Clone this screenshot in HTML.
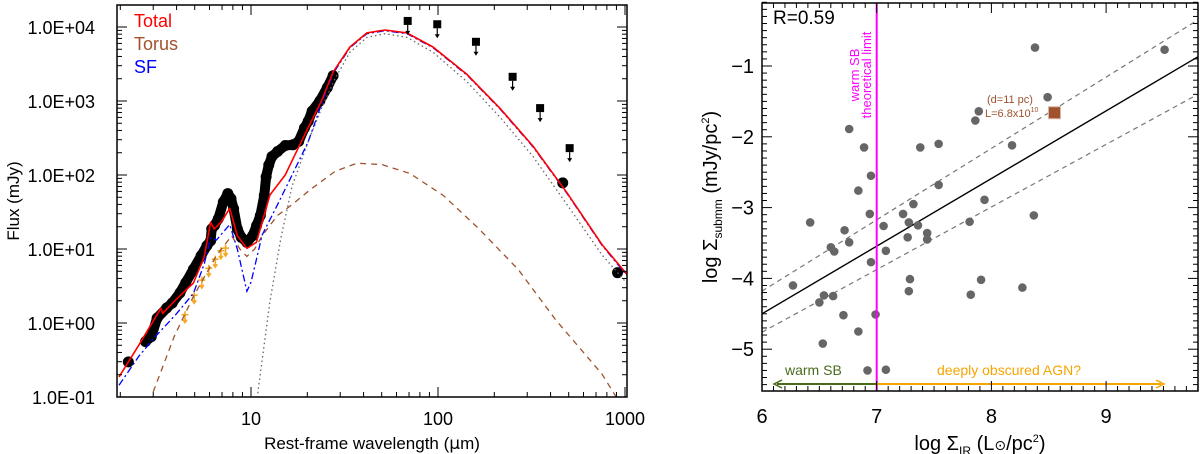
<!DOCTYPE html>
<html><head><meta charset="utf-8"><style>
body{margin:0;background:#fff;}
svg{display:block;font-family:"Liberation Sans",sans-serif;}
</style></head><body>
<svg id="chart" width="1200" height="454" viewBox="0 0 1200 454"></svg>
<script>
// ---- Left panel data (log10 wavelength [um], log10 flux [mJy]) ----
const totalLogL = [0.294,0.40,0.518,0.528,0.60,0.692,0.75,0.784,0.804,0.845,0.886,0.927,0.978,1.029,1.101,1.183,1.244,1.306,1.380,1.439,1.529,1.620,1.717,1.834,1.973,2.155,2.332,2.508,2.690,2.877,3.03];
const totalLogF = [-0.73,-0.30,0.20,0.13,0.32,0.54,0.90,1.36,1.27,1.38,1.55,1.18,1.01,1.09,1.73,2.00,2.32,2.64,3.02,3.39,3.73,3.92,3.96,3.92,3.73,3.36,2.90,2.39,1.76,1.06,0.60];
const sfLogL = [0.294,0.40,0.49,0.60,0.692,0.75,0.784,0.815,0.886,0.927,0.978,1.00,1.06,1.14,1.22,1.306,1.380,1.439,1.529,1.620,1.717,1.834,1.973,2.155,2.332,2.508,2.690,2.877,3.03];
const sfLogF = [-0.84,-0.45,-0.18,0.12,0.40,0.80,1.15,1.12,1.33,1.00,0.43,0.55,1.19,1.59,2.00,2.45,2.98,3.37,3.72,3.91,3.95,3.91,3.72,3.35,2.89,2.38,1.75,1.05,0.58];
const torusLogL = [0.456,0.59,0.692,0.815,0.897,0.94,0.978,1.02,1.06,1.14,1.22,1.316,1.45,1.567,1.70,1.85,2.03,2.22,2.43,2.63,2.877,2.97];
const torusLogF = [-1.07,-0.18,0.36,0.91,1.18,1.00,0.90,1.00,1.18,1.45,1.60,1.80,2.05,2.16,2.14,2.02,1.72,1.27,0.72,0.04,-0.69,-1.07];
const coldLogL = [1.03,1.10,1.16,1.22,1.306,1.380,1.449,1.529,1.62,1.717,1.834,1.973,2.155,2.332,2.508,2.69,2.877,3.03];
const coldLogF = [-1.07,0.27,1.15,1.85,2.45,2.92,3.30,3.66,3.86,3.91,3.86,3.66,3.26,2.78,2.25,1.60,0.92,0.48];
const specLogL = [0.344,0.436,0.467,0.498,0.549,0.579,0.620,0.651,0.692,0.733,0.764,0.784,0.790,0.805,0.825,0.852,0.876,0.893,0.907,0.927,0.948,0.978,1.009,1.030,1.050,1.071,1.081,1.095,1.112,1.142,1.183,1.224,1.255,1.286,1.306,1.327,1.368,1.408,1.439,2.667,2.96];
const specLogF = [-0.525,-0.252,-0.184,0.066,0.203,0.271,0.407,0.544,0.726,0.908,1.044,1.112,1.271,1.317,1.408,1.635,1.749,1.681,1.544,1.271,1.158,1.090,1.180,1.317,1.453,1.726,1.976,2.135,2.249,2.317,2.399,2.408,2.454,2.636,2.727,2.863,3.0,3.181,3.341,1.894,0.68];
const ulLogL = [1.838,1.996,2.203,2.399,2.546,2.704];
const ulLogF = [4.082,4.037,3.800,3.327,2.904,2.363];
const orLogL = [0.647,0.696,0.737,0.774,0.809,0.839,0.864];
const orLogF = [0.112,0.375,0.580,0.739,0.862,0.976,1.012];
const yTickLabels = ["1.0E-01","1.0E+00","1.0E+01","1.0E+02","1.0E+03","1.0E+04"];
const xTickLabels = ["10","100","1000"];
// ---- Right panel data ----
const sirX = [8.38,9.51,8.49,7.89,7.86,6.76,8.18,6.89,7.38,7.54,6.95,7.54,6.84,7.94,7.32,6.94,7.23,8.37,6.42,7.28,7.81,7.06,7.36,6.72,7.44,6.76,7.27,7.44,6.60,6.63,7.08,6.95,7.29,7.91,6.27,7.28,6.54,6.50,6.62,7.82,8.27,6.71,6.99,6.84,6.53,6.92,7.08];
const ssubY = [-0.74,-0.77,-1.44,-1.64,-1.77,-1.89,-2.12,-2.15,-2.15,-2.10,-2.55,-2.68,-2.76,-2.89,-2.95,-3.09,-3.09,-3.11,-3.21,-3.21,-3.20,-3.26,-3.25,-3.32,-3.36,-3.49,-3.42,-3.45,-3.56,-3.62,-3.61,-3.77,-4.01,-4.02,-4.10,-4.18,-4.24,-4.34,-4.25,-4.23,-4.13,-4.52,-4.51,-4.75,-4.92,-5.30,-5.29];
const targetX = [8.55], targetY = [-1.66];
const fitX = [6, 9.8], fitY = [-4.50, -0.87];
const upX = [6, 9.8], upY = [-4.18, -0.35];
const loX = [6, 9.8], loY = [-4.76, -1.40];
const rXTicks = [6,7,8,9];
const rYTicks = [-1,-2,-3,-4,-5];

const NS = "http://www.w3.org/2000/svg";
const svg = document.getElementById('chart');
function mk(tag, attrs, parent){ const e=document.createElementNS(NS,tag); for(const k in attrs) e.setAttribute(k,attrs[k]); (parent||svg).appendChild(e); return e; }
const xL = v => 251 + (v-1)*187;
const yL = v => 27 + (4-v)*74;
const xR = v => 762 + (v-6)*114.7;
const yR = v => 66 + (-1-v)*70.8;
const L = {x0:117,x1:627,y0:5,y1:397};
const R = {x0:762,x1:1198,y0:3,y1:391};

// ===== LEFT PANEL =====
const gL = mk('g',{});


const clipL = mk('clipPath',{id:'cl'}); mk('rect',{x:L.x0,y:L.y0,width:L.x1-L.x0,height:L.y1-L.y0},clipL);
const plotL = mk('g',{'clip-path':'url(#cl)'},gL);
function pts(xs,ys,fx,fy){ return xs.map((v,i)=>fx(v).toFixed(1)+','+fy(ys[i]).toFixed(1)).join(' '); }
const specN = specLogL.length-2;
const specLine = mk('polyline',{points:pts(specLogL.slice(1,specN),specLogF.slice(1,specN),xL,yL),fill:'none',stroke:'#000','stroke-width':10,'stroke-linejoin':'round','stroke-linecap':'round'},plotL);


specLogL.forEach((v,i)=>{
  const c = mk('circle',{cx:xL(v),cy:yL(specLogF[i]),r:5.5,fill:'#000'},plotL);
  
  
});
orLogL.forEach((v,i)=>{
  const x=xL(v), y=yL(orLogF[i]);
  const g=mk('g',{stroke:'#f5a623','stroke-width':1.6,fill:'none'},plotL);
  
  
  mk('line',{x1:x-3.5,y1:y,x2:x+3.5,y2:y},g);
  mk('line',{x1:x,y1:y-3.5,x2:x,y2:y+7},g);
  mk('polyline',{points:`${x-2},${y+5} ${x},${y+8} ${x+2},${y+5}`},g);
});
const torus = mk('polyline',{points:pts(torusLogL,torusLogF,xL,yL),fill:'none',stroke:'#a0522d','stroke-width':1.3,'stroke-dasharray':'6,5'},plotL);


const cold = mk('polyline',{points:pts(coldLogL,coldLogF,xL,yL),fill:'none',stroke:'#666','stroke-width':1.3,'stroke-dasharray':'1.5,3'},plotL);


const sf = mk('polyline',{points:pts(sfLogL,sfLogF,xL,yL),fill:'none',stroke:'#0000ff','stroke-width':1.3,'stroke-dasharray':'7,3,2,3'},plotL);


const tot = mk('polyline',{points:pts(totalLogL,totalLogF,xL,yL),fill:'none',stroke:'#ff0000','stroke-width':1.6,'stroke-linejoin':'round'},plotL);


ulLogL.forEach((v,i)=>{
  const x=xL(v), y=yL(ulLogF[i]);
  const g=mk('g',{},gL);
  
  
  mk('rect',{x:x-4,y:y-4,width:8,height:8,fill:'#000'},g);
  mk('line',{x1:x,y1:y+4,x2:x,y2:y+13,stroke:'#000','stroke-width':1.2},g);
  mk('polygon',{points:`${x-2.5},${y+10} ${x+2.5},${y+10} ${x},${y+14}`,fill:'#000'},g);
});
mk('rect',{x:L.x0,y:L.y0,width:L.x1-L.x0,height:L.y1-L.y0,fill:'none',stroke:'#000','stroke-width':1.5},gL);
for(let d=0; d<=3; d++){ for(let m=1;m<=9;m++){ const lv=d+Math.log10(m); if(lv<0.29||lv>3.01) continue; const x=xL(lv); const len=m===1?10:5;
  mk('line',{x1:x,y1:L.y1,x2:x,y2:L.y1-len,stroke:'#000','stroke-width':1},gL); mk('line',{x1:x,y1:L.y0,x2:x,y2:L.y0+len,stroke:'#000','stroke-width':1},gL);} }
for(let d=-2; d<=4; d++){ for(let m=1;m<=9;m++){ const lv=d+Math.log10(m); if(lv<-1.01||lv>4.29) continue; const y=yL(lv); const len=m===1?10:5;
  mk('line',{x1:L.x0,y1:y,x2:L.x0+len,y2:y,stroke:'#000','stroke-width':1},gL); mk('line',{x1:L.x1,y1:y,x2:L.x1-len,y2:y,stroke:'#000','stroke-width':1},gL);} }
yTickLabels.forEach((t,i)=>{ const e=mk('text',{x:95,y:yL(i-1)+7,'text-anchor':'end','font-size':18},gL); e.textContent=t;
    });
xTickLabels.forEach((t,i)=>{ const e=mk('text',{x:xL(i+1),y:425,'text-anchor':'middle','font-size':18},gL); e.textContent=t;
    });
let t;
t=mk('text',{x:372,y:449,'text-anchor':'middle','font-size':17},gL); t.innerHTML='Rest-frame wavelength (<tspan font-family="DejaVu Sans">μ</tspan>m)';
 
t=mk('text',{x:0,y:0,'text-anchor':'middle','font-size':17,transform:'translate(19,201) rotate(-90)'},gL); t.textContent='Flux (mJy)';
 
[['Total','#ff0000',27],['Torus','#a0522d',50],['SF','#0000ff',73]].forEach(([s,c,y])=>{ const e=mk('text',{x:134,y:y,fill:c,'font-size':18},gL); e.textContent=s;
    });

// ===== RIGHT PANEL =====
const gR = mk('g',{});


const clipR = mk('clipPath',{id:'cr'}); mk('rect',{x:R.x0,y:R.y0,width:R.x1-R.x0,height:R.y1-R.y0},clipR);
const plotR = mk('g',{'clip-path':'url(#cr)'},gR);
const lu=mk('line',{x1:xR(upX[0]),y1:yR(upY[0]),x2:xR(upX[1]),y2:yR(upY[1]),stroke:'#777','stroke-width':1.2,'stroke-dasharray':'5,4'},plotR);
 
const ll=mk('line',{x1:xR(loX[0]),y1:yR(loY[0]),x2:xR(loX[1]),y2:yR(loY[1]),stroke:'#777','stroke-width':1.2,'stroke-dasharray':'5,4'},plotR);
 
const lf=mk('line',{x1:xR(fitX[0]),y1:yR(fitY[0]),x2:xR(fitX[1]),y2:yR(fitY[1]),stroke:'#000','stroke-width':1.4},plotR);
 
sirX.forEach((v,i)=>{ const c=mk('circle',{cx:xR(v),cy:yR(ssubY[i]),r:4.3,fill:'#666'},plotR);
    });
targetX.forEach((v,i)=>{ const r=mk('rect',{x:xR(v)-6,y:yR(targetY[i])-6,width:12,height:12,fill:'#a0522d',stroke:'#d8b8a8','stroke-width':1},plotR);
    });
const mg=mk('line',{x1:xR(7),y1:R.y0,x2:xR(7),y2:R.y1,stroke:'#ff00ff','stroke-width':2},plotR);
 
const ga=mk('line',{x1:xR(7),y1:384,x2:777,y2:384,stroke:'#4a6b1f','stroke-width':2},gR);
 
mk('polyline',{points:'782,380 774,384 782,388',fill:'none',stroke:'#4a6b1f','stroke-width':1.5},gR);
const oa=mk('line',{x1:xR(7),y1:384,x2:1161,y2:384,stroke:'#f5a500','stroke-width':2},gR);
 
mk('polyline',{points:'1156,380 1164,384 1156,388',fill:'none',stroke:'#f5a500','stroke-width':1.5},gR);
mk('rect',{x:R.x0,y:R.y0,width:R.x1-R.x0,height:R.y1-R.y0,fill:'none',stroke:'#000','stroke-width':1.5},gR);
for(let k=60;k<=98;k++){ const v=k/10; const x=xR(v); const len=(k%10===0)?10:5;
  mk('line',{x1:x,y1:R.y1,x2:x,y2:R.y1-len,stroke:'#000'},gR); mk('line',{x1:x,y1:R.y0,x2:x,y2:R.y0+len,stroke:'#000'},gR); }
for(let k=-55;k<=-1;k++){ const v=k/10; const y=yR(v); const len=(k%10===0)?10:5;
  mk('line',{x1:R.x0,y1:y,x2:R.x0+len,y2:y,stroke:'#000'},gR); mk('line',{x1:R.x1,y1:y,x2:R.x1-len,y2:y,stroke:'#000'},gR); }
rXTicks.forEach(v=>{ const e=mk('text',{x:xR(v),y:423,'text-anchor':'middle','font-size':20},gR); e.textContent=v;
    });
rYTicks.forEach(v=>{ const e=mk('text',{x:754,y:yR(v)+7,'text-anchor':'end','font-size':20},gR); e.textContent='\u2212'+Math.abs(v);
    });
t=mk('text',{x:980,y:450,'text-anchor':'middle','font-size':20},gR); t.innerHTML='log  Σ<tspan font-size="12" dy="5">IR</tspan><tspan dy="-5"> (L</tspan><tspan font-family="DejaVu Sans" font-size="14">⊙</tspan>/pc<tspan font-size="11" dy="-8">2</tspan><tspan dy="8">)</tspan>';
 
t=mk('text',{x:0,y:0,'text-anchor':'middle','font-size':20,transform:'translate(717,197) rotate(-90)'},gR); t.innerHTML='log  Σ<tspan font-size="12" dy="5">submm</tspan><tspan dy="-5"> (mJy/pc</tspan><tspan font-size="11" dy="-8">2</tspan><tspan dy="8">)</tspan>';
 
t=mk('text',{x:773,y:24,'font-size':19},gR); t.textContent='R=0.59';
 
t=mk('text',{x:0,y:0,'font-size':13,fill:'#ff00ff','text-anchor':'middle',transform:'translate(859,75) rotate(-90)'},gR); t.textContent='warm SB';
 
t=mk('text',{x:0,y:0,'font-size':13,fill:'#ff00ff','text-anchor':'middle',transform:'translate(871,75) rotate(-90)'},gR); t.textContent='theoretical limit';
 
t=mk('text',{x:987,y:103,'font-size':11,fill:'#a0522d'},gR); t.textContent='(d=11 pc)';
 
t=mk('text',{x:985,y:117,'font-size':11,fill:'#a0522d'},gR); t.innerHTML='L=6.8x10<tspan font-size="7" dy="-5">10</tspan>';
 
t=mk('text',{x:785,y:375,'font-size':14,fill:'#4a6b1f'},gR); t.textContent='warm SB';
 
t=mk('text',{x:937,y:375,'font-size':14,fill:'#f5a500'},gR); t.textContent='deeply obscured AGN?';
 
</script>
</body></html>
